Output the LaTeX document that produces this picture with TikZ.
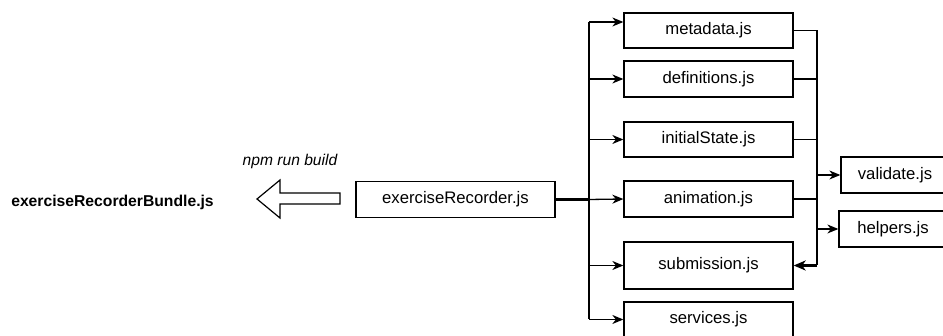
\documentclass[tikz,border=0pt]{standalone}
\usepackage{fontspec}
\setmainfont{Liberation Sans}
\usetikzlibrary{arrows.meta}
\begin{document}
\begin{tikzpicture}[x=1pt,y=-1pt,
  font=\fontsize{16.7}{19}\selectfont,
  filebox/.style={draw=black,line width=1.3pt,rectangle,inner sep=0pt,fill=white},
  conn/.style={draw=black,line width=1.3pt},
  arr/.style={conn,-{Stealth[length=11pt,width=9pt,inset=3.5pt]}},
  thick conn/.style={draw=black,line width=2.2pt}]
\useasboundingbox (0,0) rectangle (943,336);
\fill[white] (0,0) rectangle (943,336);
\clip (0,0) rectangle (943,336);

% left part
\node[font=\fontsize{15.7}{19}\selectfont\bfseries] (bundle) at (112.5,202) {exerciseRecorderBundle.js};
\node[font=\fontsize{15.6}{19}\selectfont\itshape] (npm) at (290,161) {npm run build};
\draw[line width=1.2pt,fill=white] (257,199) -- (280,180) -- (280,193) -- (340,193) -- (340,204) -- (280,204) -- (280,218) -- cycle;

\node[filebox,minimum width=199pt,minimum height=36pt] (rec) at (455.5,199.5) {exerciseRecorder.js};

% middle column
\node[filebox,minimum width=169pt,minimum height=35pt] (meta) at (708.5,30.5) {metadata.js};
\node[filebox,minimum width=169pt,minimum height=36pt] (defs) at (708.5,79) {definitions.js};
\node[filebox,minimum width=169pt,minimum height=35pt] (init) at (708.5,139.5) {initialState.js};
\node[filebox,minimum width=169pt,minimum height=36pt] (anim) at (708.5,199) {animation.js};
\node[filebox,minimum width=169pt,minimum height=47pt] (sub) at (708.5,265.5) {submission.js};
\node[filebox,minimum width=169pt,minimum height=35pt] (serv) at (708.5,319.5) {services.js};

% right column
\node[filebox,minimum width=108pt,minimum height=36pt] (val) at (895,175) {validate.js};
\node[filebox,minimum width=108pt,minimum height=36pt] (help) at (893,229) {helpers.js};

% left bus
\coordinate (lb) at (589,199.5);
\coordinate (lbtop) at (589,22);
\coordinate (lbbot) at (589,319.5);
\draw[thick conn] (rec.east) -- (lb);
\draw[conn] (lbtop) -- (lbbot);
\draw[line width=1.8pt] (589,79) -- (589,266);
\draw[arr] (lbtop) -- (meta.west |- lbtop);
\draw[arr] (lbtop |- defs.west) -- (defs.west);
\draw[arr] (lbtop |- init.west) -- (init.west);
\draw[arr] (lb) -- (anim.west);
\draw[arr] (lbtop |- sub.west) -- (sub.west);
\draw[arr] (lbbot) -- (serv.west);

% right bus
\coordinate (rbtop) at (817,30.5);
\coordinate (rbbot) at (817,265.5);
\draw[conn] (meta.east) -- (rbtop) -- (rbbot);
\draw[conn] (defs.east) -- (rbtop |- defs.east);
\draw[conn] (init.east) -- (rbtop |- init.east);
\draw[conn] (anim.east) -- (rbtop |- anim.east);
\draw[thick conn] (rbtop |- anim.east) -- (rbbot);
\draw[thick conn,-{Stealth[length=12pt,width=10pt,inset=3.5pt]}] (rbbot) -- (sub.east);
\draw[arr] (rbtop |- val.west) -- (val.west);
\draw[arr] (rbtop |- help.west) -- (help.west);
\end{tikzpicture}
\end{document}
